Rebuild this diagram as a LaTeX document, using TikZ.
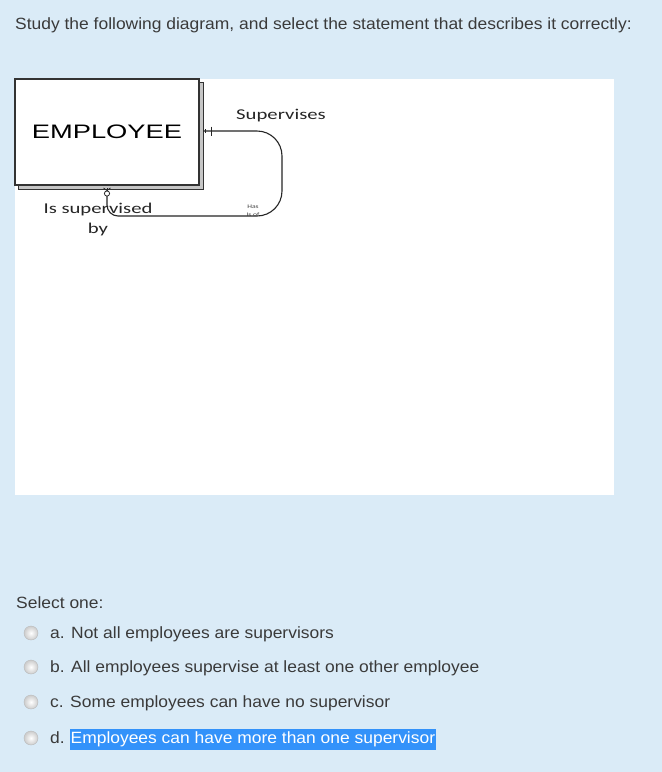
\documentclass[tikz,border=0pt]{standalone}
\usepackage{fontspec}
\setmainfont{Liberation Sans}
\newfontfamily\qfont[FakeStretch=1.07]{Liberation Sans}
\newfontfamily\boxfont[FakeStretch=1.4]{Liberation Sans}
\newfontfamily\rolefont[FakeStretch=1.38]{Carlito}
\usetikzlibrary{positioning, calc}
\definecolor{pagebg}{RGB}{218,235,247}
\definecolor{qtext}{RGB}{58,58,58}
\definecolor{selblue}{RGB}{51,146,250}
\tikzset{
    entity/.style={
        rectangle,
        draw=black!80,
        line width=1.1pt,
        fill=white,
        minimum width=184pt,
        minimum height=106pt,
        inner sep=0pt,
        font=\boxfont\fontsize{19.5}{20}\selectfont
    },
    entityshadow/.style={
        rectangle,
        draw=black!80,
        line width=0.9pt,
        fill=gray!45,
        minimum width=185pt,
        minimum height=107pt,
        inner sep=0pt
    },
    rel/.style={
        draw=black!85,
        line width=1.1pt
    },
    cardmark/.style={
        draw=black!85,
        line width=0.8pt
    },
    rolelabel/.style={
        font=\rolefont\fontsize{15}{16}\selectfont,
        text=black!85,
        inner sep=0pt,
        align=center
    },
    tinylabel/.style={
        font=\rolefont\fontsize{5.5}{6}\selectfont,
        text=black!75,
        inner sep=0pt
    },
    qtextline/.style={
        font=\qfont\fontsize{16.3}{18}\selectfont,
        text=qtext,
        inner sep=0pt,
        anchor=base west
    },
    radio/.style={
        circle,
        draw=gray!55,
        inner color=white,
        outer color=gray!40,
        minimum size=14pt,
        inner sep=0pt
    },
    selected/.style={
        fill=selblue,
        text=white,
        text height=12pt,
        text depth=3.5pt,
        inner ysep=3pt,
        inner xsep=0.5pt
    }
}
\begin{document}
\begin{tikzpicture}[x=1pt, y=-1pt]

\useasboundingbox[fill=pagebg] (0,0) rectangle (662,772);

% Question
\node[qtextline] (question) at (15,29.5) {Study the following diagram, and select the statement that describes it correctly:};

% Diagram panel
\fill[white] (15,79) rectangle (614,495);

\node[entityshadow] (empshadow) at (110.5,135.5) {};
\node[entity] (emp) at (107,132) {EMPLOYEE};

% Recursive relationship
\coordinate (relstart) at (203,131);
\coordinate (relright) at (282,131);
\coordinate (reldown) at (282,216);
\coordinate (relleft) at (107,216);
\coordinate (relend) at (107,196);

\draw[rel] (relstart) [rounded corners=25pt] -- (relright) -- (reldown) [rounded corners=11pt] -- (relleft) -- (relend);

% One (mandatory) at the supervisor end
\draw[cardmark] ($(relstart)+(2,-2)$) -- ($(relstart)+(2,2)$);
\draw[cardmark] ($(relstart)+(8,-4.5)$) -- ($(relstart)+(8,4.5)$);

% Zero or many at the supervised end
\draw[cardmark, fill=white] (107,193.5) circle (2.6pt);
\draw[cardmark] (107,190.5) -- (107,188);
\draw[cardmark] (107,190.5) -- (103.5,188);
\draw[cardmark] (107,190.5) -- (110.5,188);

\node[rolelabel] (supervises) at (281,116) {Supervises};
\node[rolelabel] (supervisedby) at (98,219.5) {Is supervised\\[4pt]by};

\node[tinylabel] (has) at (253,206.5) {Has};
\node[tinylabel] (isof) at (253,215) {Is of};

% Answers
\node[qtextline] (selectone) at (16,608.5) {Select one:};

\node[radio] (ra) at (31,633) {};
\node[qtextline] (opta) at (50,638.5) {a. Not all employees are supervisors};

\node[radio] (rb) at (31,667) {};
\node[qtextline] (optb) at (50,672.5) {b. All employees supervise at least one other employee};

\node[radio] (rc) at (31,702) {};
\node[qtextline] (optc) at (50,707.5) {c. Some employees can have no supervisor};

\node[radio] (rd) at (31,738) {};
\node[qtextline] (optd) at (50,743.5) {d.};
\node[qtextline, selected, right=5pt of optd.base east, anchor=base west] (optdtext) {Employees can have more than one supervisor};

\end{tikzpicture}
\end{document}
